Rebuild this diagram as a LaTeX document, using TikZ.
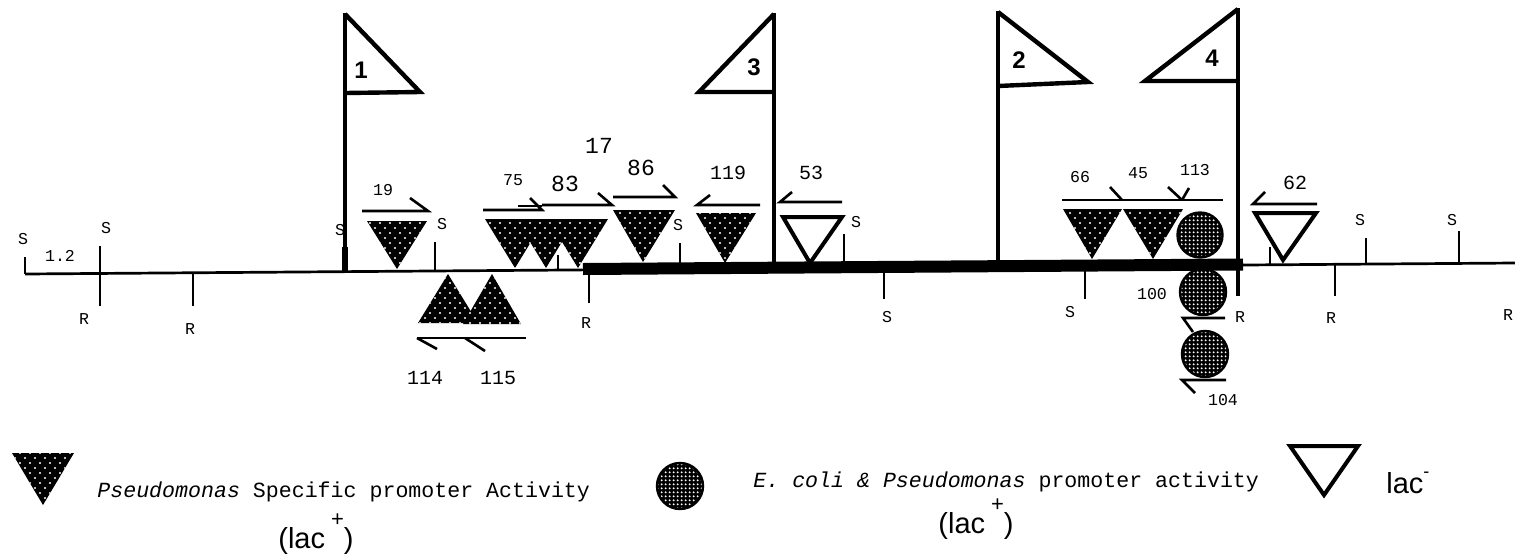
\documentclass[tikz,border=0pt]{standalone}
\usepackage{fontspec}
\newfontfamily\mono{Liberation Mono}
\newfontfamily\sans{Liberation Sans}
\usetikzlibrary{patterns}
\pgfdeclarepatternformonly{wdots}{\pgfqpoint{-1pt}{-1pt}}{\pgfqpoint{4pt}{4pt}}{\pgfqpoint{5pt}{5pt}}{%
  \pgfpathcircle{\pgfqpoint{0pt}{0pt}}{0.6pt}%
  \pgfpathcircle{\pgfqpoint{2.5pt}{2.5pt}}{0.6pt}%
  \pgfusepath{fill}}
\pgfdeclarepatternformonly{fdots}{\pgfqpoint{0pt}{0pt}}{\pgfqpoint{2pt}{2pt}}{\pgfqpoint{2pt}{2pt}}{%
  \pgfpathcircle{\pgfqpoint{1pt}{1pt}}{0.62pt}%
  \pgfusepath{fill}}
\tikzset{
  baseln/.style={line width=1.35pt},
  tickln/.style={line width=1pt},
  poleln/.style={line width=1.6pt},
  flagln/.style={line width=2.2pt, line join=miter},
  harp/.style={line width=1.3pt, line join=miter},
  pdot/.style={preaction={fill=black}, pattern=wdots, pattern color=white},
  edot/.style={preaction={fill=black}, pattern=fdots, pattern color=white, draw=black, line width=1.2pt},
  opentri/.style={draw=black, fill=white, line width=2pt, line join=miter},
  sm/.style={font=\mono\fontsize{8.3}{9}\selectfont, inner sep=0pt},
  md/.style={font=\mono\fontsize{10}{11}\selectfont, inner sep=0pt},
  lg/.style={font=\mono\fontsize{11.5}{12}\selectfont, inner sep=0pt},
  flagnum/.style={font=\sans\bfseries\fontsize{12}{12}\selectfont, inner sep=0pt},
  lac/.style={font=\sans\fontsize{14.5}{15}\selectfont, inner sep=0pt, anchor=base west},
  legtxt/.style={font=\mono\fontsize{10.8}{12}\selectfont, inner sep=0pt, anchor=base west},
}
\begin{document}
\begin{tikzpicture}[x=0.5pt,y=-0.5pt]
\useasboundingbox (0,0) rectangle (1515,553);

% restriction-site labels (drawn first so poles lie over them)
\node[sm] (s1) at (23,239) {S};
\node[sm] (s2) at (106,228) {S};
\node[sm] (r1) at (84,319) {R};
\node[sm] (r2) at (190,329) {R};
\node[sm] (s3) at (340,230) {S};
\node[sm] (s4) at (442,224) {S};
\node[sm] (r3) at (586,323) {R};
\node[sm] (s5) at (678,225) {S};
\node[sm] (s6) at (856,222) {S};
\node[sm] (s7) at (887,317) {S};
\node[sm] (s8) at (1070,312) {S};
\node[sm] (r4) at (1240,317) {R};
\node[sm] (r5) at (1331,318) {R};
\node[sm] (s9) at (1360,220) {S};
\node[sm] (s10) at (1452,220) {S};
\node[sm] (r6) at (1508,315) {R};
\node[sm] (scale) at (60,256) {1.2};

% main map line and thick segment
\draw[baseln] (25,274) -- (1515,263);
\draw[line width=6pt] (583,269) -- (1243,264.5);

% ticks
\draw[tickln] (25,257) -- (25,274);
\draw[tickln] (100,246) -- (100,306);
\draw[tickln] (193,273) -- (193,306);
\draw[tickln] (435,242) -- (435,271);
\draw[tickln] (558,255) -- (558,270);
\draw[tickln] (589,270) -- (589,303);
\draw[tickln] (680,243) -- (680,269);
\draw[tickln] (844,234) -- (844,268);
\draw[tickln] (884,268) -- (884,299);
\draw[tickln] (1085,266) -- (1085,299);
\draw[tickln] (1335,264) -- (1335,296);
\draw[tickln] (1366,238) -- (1366,264);
\draw[tickln] (1459,231) -- (1459,263);

% flags
\draw[poleln] (345,13) -- (345,272);
\draw[line width=2.8pt] (345,247) -- (345,272);
\draw[flagln] (345,14) -- (420,92) -- (345,93);
\draw[poleln] (774,13) -- (774,268.5);
\draw[flagln] (774,14) -- (699,92) -- (774,92);
\draw[poleln] (998,11) -- (998,267);
\draw[flagln] (998,12) -- (1088,82) -- (998,86);
\draw[poleln] (1238,8) -- (1238,296);
\draw[flagln] (1238,9) -- (1145,81) -- (1238,81);
\node[flagnum] (f1) at (361,70) {1};
\node[flagnum] (f3) at (754,67) {3};
\node[flagnum] (f2) at (1019,60) {2};
\node[flagnum] (f4) at (1212,58) {4};

% Pseudomonas-specific (dotted) triangles
\path[pdot] (367,221) -- (427,221) -- (397,269) -- cycle;
\path[pdot] (485,219) -- (545,219) -- (515,268) -- cycle;
\path[pdot] (516,219) -- (576,219) -- (546,268) -- cycle;
\path[pdot] (548,219) -- (608,219) -- (578,268) -- cycle;
\path[pdot] (613,210) -- (675,210) -- (643,262) -- cycle;
\path[pdot] (696,213) -- (756,213) -- (725,263) -- cycle;
\path[pdot] (1063,209) -- (1122,209) -- (1092,259) -- cycle;
\path[pdot] (1123,209) -- (1183,209) -- (1153,259) -- cycle;
\path[pdot] (448,274) -- (478,323) -- (418,323) -- cycle;
\path[pdot] (492,274) -- (521,324) -- (463,324) -- cycle;

% lac- (open) triangles
\path[opentri] (783,217) -- (842,217) -- (810,263) -- cycle;
\path[opentri] (1255,213) -- (1316,213) -- (1283,260) -- cycle;
\draw[tickln] (1270,247) -- (1270,264);

% E. coli & Pseudomonas (grey) circles
\path[edot] (1200,235) circle[radius=22.5];
\path[edot] (1203,292) circle[radius=23];
\path[edot] (1205,354) circle[radius=23];

% orientation arrows (half arrowheads)
\draw[harp] (362,211) -- (428,211) -- (410,198);
\draw[harp] (483,210) -- (542,210) -- (530,198);
\draw[harp] (518,206) -- (542,206);
\draw[harp] (542,205) -- (612,205) -- (598,193);
\draw[harp] (613,197) -- (675,197) -- (663,185);
\draw[harp] (710,195) -- (697,205) -- (760,205);
\draw[harp] (792,192) -- (780,202) -- (842,202);
\draw[harp] (1265,192) -- (1253,204) -- (1317,204);
\draw[harp] (1062,200) -- (1223,200);
\draw[harp] (1122,200) -- (1110,187);
\draw[harp] (1182,200) -- (1168,187);
\draw[harp] (1182,200) -- (1189,188);
\draw[harp] (417,338) -- (526,338);
\draw[harp] (417,338) -- (437,349);
\draw[harp] (465,338) -- (485,351);
\draw[harp] (1193,332) -- (1183,318) -- (1225,318);
\draw[harp] (1195,393) -- (1182,380) -- (1226,380);

% clone numbers
\node[sm] (n19) at (383,190) {19};
\node[sm] (n75) at (513,180) {75};
\node[lg] (n83) at (565,184) {83};
\node[lg] (n17) at (599,146) {17};
\node[lg] (n86) at (641,168) {86};
\node[md] (n119) at (728,173) {119};
\node[md] (n53) at (811,173) {53};
\node[md] (n114) at (425,378) {114};
\node[md] (n115) at (498,378) {115};
\node[sm] (n66) at (1080,177) {66};
\node[sm] (n45) at (1138,173) {45};
\node[sm] (n113) at (1195,170) {113};
\node[sm] (n100) at (1152,294) {100};
\node[sm] (n104) at (1223,400) {104};
\node[md] (n62) at (1295,183) {62};

% legend
\path[pdot] (12,453) -- (74,453) -- (43,505) -- cycle;
\node[legtxt] (leg1) at (97,497) {{\itshape Pseudomonas} Specific promoter Activity};
\node[lac] (lac1) at (278,548) {(lac\hspace{3pt}\raisebox{11pt}{\fontsize{11}{11}\selectfont +})};
\path[edot] (680,486) circle[radius=23];
\node[legtxt] (leg2) at (753,487) {{\itshape E. coli \& Pseudomonas} promoter activity};
\node[lac] (lac2) at (938,533) {(lac\hspace{3pt}\raisebox{11pt}{\fontsize{11}{11}\selectfont +})};
\path[opentri] (1290,446) -- (1358,446) -- (1324,495) -- cycle;
\node[lac] (lac3) at (1386,493) {lac\raisebox{8pt}{\fontsize{9}{9}\selectfont -}};
\end{tikzpicture}
\end{document}
